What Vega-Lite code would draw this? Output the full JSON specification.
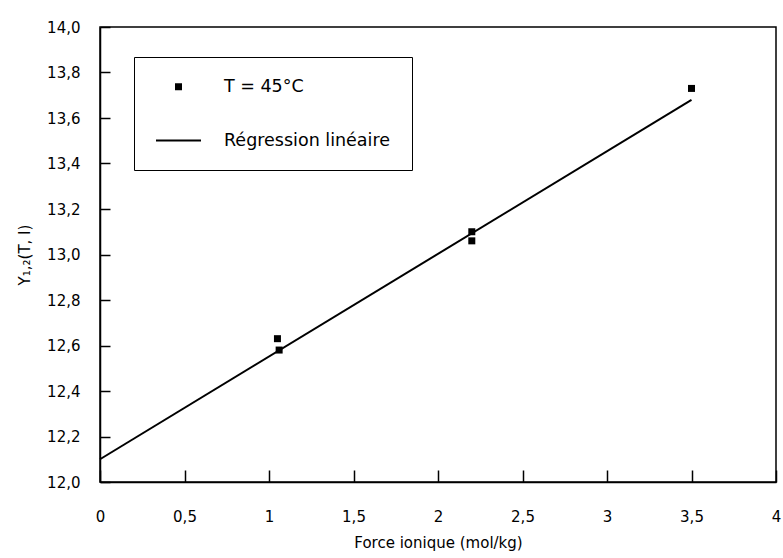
{
  "$schema": "https://vega.github.io/schema/vega-lite/v6.json",
  "width": 676,
  "height": 455,
  "autosize": {"type": "none"},
  "padding": {"left": 100, "top": 27, "right": 7, "bottom": 76},
  "background": "white",
  "config": {
    "font": "DejaVu Sans",
    "view": {"stroke": "black", "strokeWidth": 1.5},
    "axis": {"grid": false, "domainColor": "black", "tickColor": "black", "labelColor": "black", "titleColor": "black", "labelFontSize": 15, "titleFontSize": 15, "titleFontWeight": "normal", "domainWidth": 1.5, "tickWidth": 1.5}
  },
  "datasets": {
    "points": [
      {"force": 1.05, "gamma": 12.63, "series": "T = 45°C"},
      {"force": 1.06, "gamma": 12.58, "series": "T = 45°C"},
      {"force": 2.2, "gamma": 13.1, "series": "T = 45°C"},
      {"force": 2.2, "gamma": 13.06, "series": "T = 45°C"},
      {"force": 3.5, "gamma": 13.73, "series": "T = 45°C"}
    ],
    "fit": [
      {"force": 0, "gamma": 12.1},
      {"force": 3.5, "gamma": 13.68}
    ]
  },
  "resolve": {"axis": {"x": "independent", "y": "independent"}},
  "layer": [
    {
      "data": {"name": "fit"},
      "mark": {"type": "line", "color": "black", "strokeWidth": 2},
      "encoding": {
        "x": {"field": "force", "type": "quantitative", "scale": {"domain": [0, 4], "nice": false},
          "axis": {"orient": "bottom", "values": [0, 0.5, 1, 1.5, 2, 2.5, 3, 3.5, 4], "ticks": false, "labelPadding": 27, "labelExpr": "replace(toString(datum.value), '.', ',')", "title": "Force ionique (mol/kg)", "titlePadding": 11, "labelFlush": false}},
        "y": {"field": "gamma", "type": "quantitative", "scale": {"domain": [12, 14], "nice": false, "zero": false},
          "axis": {"orient": "left", "values": [12, 12.2, 12.4, 12.6, 12.8, 13, 13.2, 13.4, 13.6, 13.8, 14], "ticks": false, "labelPadding": 20, "labelExpr": "replace(format(datum.value, '.1f'), '.', ',')", "title": "Y₁,₂(T, I)", "titlePadding": 14}}
      }
    },
    {
      "data": {"name": "points"},
      "mark": {"type": "point", "filled": true, "color": "black", "opacity": 1},
      "encoding": {
        "x": {"field": "force", "type": "quantitative",
          "axis": {"orient": "top", "offset": -455, "values": [0, 0.5, 1, 1.5, 2, 2.5, 3, 3.5, 4], "ticks": true, "tickSize": 12, "labels": false, "domain": false, "title": null}},
        "y": {"field": "gamma", "type": "quantitative",
          "axis": {"orient": "right", "offset": -676, "values": [12, 12.2, 12.4, 12.6, 12.8, 13, 13.2, 13.4, 13.6, 13.8, 14], "ticks": true, "tickSize": 10, "labels": false, "domain": false, "title": null}},
        "shape": {"field": "series", "type": "nominal",
          "scale": {"domain": ["T = 45°C", "Régression linéaire"], "range": ["square", "M-1,-0.045H1V0.045H-1Z"]},
          "legend": {"title": null, "orient": "none", "legendX": 34, "legendY": 30, "strokeColor": "black", "padding": 21, "labelFontSize": 17.5, "labelColor": "black", "labelOffset": 22, "rowPadding": 21, "labelLimit": 300,
            "symbolFillColor": "black", "symbolOpacity": 1}},
        "size": {"field": "series", "type": "nominal",
          "scale": {"domain": ["T = 45°C", "Régression linéaire"], "range": [49, 2025]},
          "legend": {"title": null, "orient": "none", "legendX": 34, "legendY": 30, "strokeColor": "black", "padding": 21, "labelFontSize": 17.5, "labelColor": "black", "labelOffset": 22, "rowPadding": 21, "labelLimit": 300,
            "symbolFillColor": "black", "symbolOpacity": 1}}
      }
    }
  ]
}
